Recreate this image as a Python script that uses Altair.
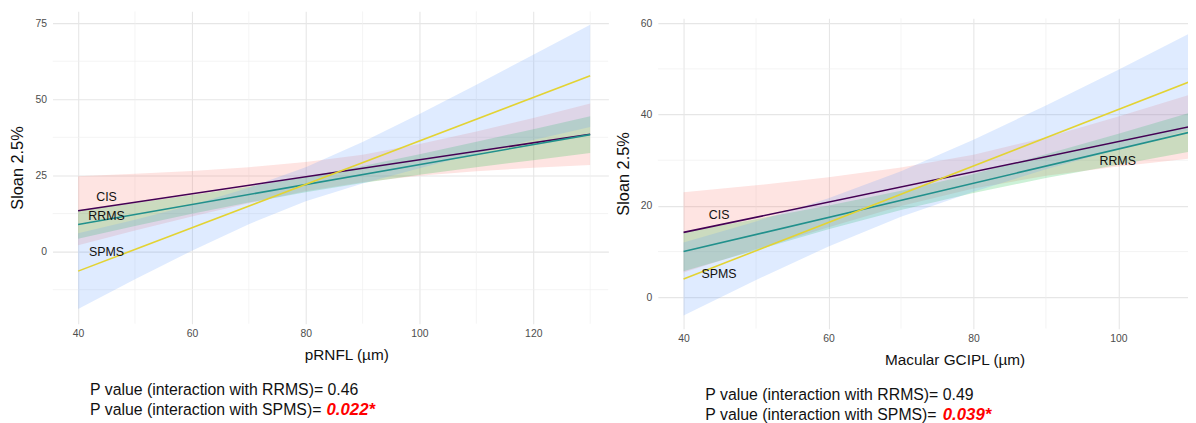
import altair as alt
import pandas as pd

groups = ["CIS", "RRMS", "SPMS"]
line_colors = {"CIS": "#440154", "RRMS": "#21908C", "SPMS": "#E3D332"}
fill_colors = {"CIS": "#F8766D", "RRMS": "#00BA38", "SPMS": "#619CFF"}

# ---------------- Left panel: pRNFL ----------------
rnfl_x = [40, 50, 60, 70, 80, 90, 100, 110, 120, 130]
rnfl_cis_lo = [2.1, 6.9, 11.5, 15.9, 19.8, 22.8, 24.9, 26.4, 27.5, 28.4]
rnfl_cis_hi = [24.7, 25.6, 26.5, 27.7, 29.4, 31.8, 35.3, 39.4, 43.9, 48.6]
rnfl_rrms_lo = [4.2, 8.4, 12.4, 16.1, 19.5, 22.5, 25.2, 27.7, 30.0, 32.4]
rnfl_rrms_hi = [13.6, 16.0, 18.6, 21.3, 24.5, 28.1, 32.0, 36.1, 40.2, 44.4]
rnfl_spms_lo = [-18.8, -9.1, 0.3, 9.0, 16.5, 22.4, 27.4, 32.2, 36.6, 40.9]
rnfl_spms_hi = [6.0, 10.5, 15.3, 21.0, 27.7, 36.0, 45.2, 54.8, 64.6, 74.5]
rnfl_fit_x = [40, 130]
rnfl_cis_fit = [13.4, 38.5]
rnfl_rrms_fit = [8.9, 38.4]
rnfl_spms_fit = [-6.4, 57.7]
rnfl_label_x = [45.0, 45.0, 45.0]
rnfl_label_y = [17.8, 11.8, -0.2]
rnfl_x_ticks = [40, 60, 80, 100, 120]
rnfl_x_minor = [50, 70, 90, 110, 130]
rnfl_y_ticks = [0, 25, 50, 75]
rnfl_y_minor = [-12.5, 12.5, 37.5, 62.5]
rnfl_p_lines = ["P value (interaction with RRMS)= 0.46", "P value (interaction with SPMS)= "]
rnfl_p_sig = "0.022*"

# ---------------- Right panel: Macular GCIPL ----------------
gcipl_x = [40, 50, 60, 70, 80, 90, 100, 110]
gcipl_cis_lo = [5.4, 10.5, 15.3, 20.0, 23.8, 26.6, 28.6, 30.4]
gcipl_cis_hi = [23.0, 24.5, 26.3, 28.4, 31.2, 35.0, 39.6, 44.4]
gcipl_rrms_lo = [5.7, 10.3, 14.9, 19.1, 22.8, 26.1, 29.0, 31.9]
gcipl_rrms_hi = [14.3, 17.1, 20.1, 23.3, 27.0, 31.3, 35.8, 40.5]
gcipl_spms_lo = [-4.0, 3.8, 11.1, 17.6, 23.1, 28.0, 32.4, 36.7]
gcipl_spms_hi = [12.0, 16.6, 21.7, 27.6, 34.5, 42.0, 49.8, 57.9]
gcipl_fit_x = [40, 110]
gcipl_cis_fit = [14.2, 37.4]
gcipl_rrms_fit = [10.0, 36.2]
gcipl_spms_fit = [4.0, 47.3]
gcipl_label_x = [44.9, 99.9, 44.9]
gcipl_label_y = [18.0, 29.9, 5.1]
gcipl_x_ticks = [40, 60, 80, 100]
gcipl_x_minor = [50, 70, 90]
gcipl_y_ticks = [0, 20, 40, 60]
gcipl_y_minor = [10, 30, 50]
gcipl_p_lines = ["P value (interaction with RRMS)= 0.49", "P value (interaction with SPMS)= "]
gcipl_p_sig = "0.039*"

FONT = "Liberation Sans"
MAJOR = "#E6E6E6"
MINOR = "#EFEFEF"


def make_panel(xs, bands, fit_x, fits, lab_x, lab_y, xt, xm, yt, ym,
               xdom, ydom, w, h, xtitle, title_x, p_lines, p_sig,
               p_x, p_sig_x, p_y):
    brows = []
    for g in groups:
        lo, hi = bands[g]
        for x, a, b in zip(xs, lo, hi):
            brows.append({"group": g, "x": x, "lo": a, "hi": b, "fill": fill_colors[g]})
    band_df = pd.DataFrame(brows)
    lrows = []
    for g in groups:
        for x, y in zip(fit_x, fits[g]):
            lrows.append({"group": g, "x": x, "y": y, "stroke": line_colors[g]})
    line_df = pd.DataFrame(lrows)
    lab_df = pd.DataFrame({"label": groups, "x": lab_x, "y": lab_y})

    xaxis = alt.Axis(values=xt, grid=True, gridColor=MAJOR, gridWidth=1.1,
                     domain=False, ticks=False, tickSize=0, labelPadding=5,
                     labelFontSize=10.5, labelColor="#4D4D4D", labelFont=FONT,
                     titleFontSize=15.5, titleFontWeight="normal", titleColor="#111111",
                     titleFont=FONT, titlePadding=8, minExtent=16, maxExtent=16,
                     titleX=title_x, format="d")
    yaxis = alt.Axis(values=yt, grid=True, gridColor=MAJOR, gridWidth=1.1,
                     domain=False, ticks=False, tickSize=0, labelPadding=6,
                     labelFontSize=10.5, labelColor="#4D4D4D", labelFont=FONT,
                     titleFontSize=16.5, titleFontWeight="normal", titleColor="#111111",
                     titleFont=FONT, titlePadding=7, minExtent=20, maxExtent=20,
                     format="d")
    xs_ = alt.Scale(domain=xdom, nice=False, zero=False)
    ys_ = alt.Scale(domain=ydom, nice=False, zero=False)

    def X(f):
        return alt.X(f, type="quantitative", scale=xs_, axis=xaxis, title=xtitle)

    def Y(f):
        return alt.Y(f, type="quantitative", scale=ys_, axis=yaxis, title="Sloan 2.5%")

    minor_x = alt.Chart(pd.DataFrame({"x": xm})).mark_rule(
        color=MINOR, strokeWidth=0.7, clip=True).encode(x=X("x"))
    minor_y = alt.Chart(pd.DataFrame({"y": ym})).mark_rule(
        color=MINOR, strokeWidth=0.7, clip=True).encode(y=Y("y"))
    area = alt.Chart(band_df).mark_area(opacity=0.2, clip=True).encode(
        x=X("x"), y=Y("lo"), y2="hi", color=alt.Color("fill:N", scale=None),
        detail="group:N")
    lines = alt.Chart(line_df).mark_line(strokeWidth=1.6, clip=True).encode(
        x=X("x"), y=Y("y"), color=alt.Color("stroke:N", scale=None),
        detail="group:N")
    labels = alt.Chart(lab_df).mark_text(
        font=FONT, fontSize=12.5, color="#111111", align="center", baseline="middle"
    ).encode(x=X("x"), y=Y("y"), text="label:N")
    p1 = alt.Chart(pd.DataFrame({"t": [p_lines[0]]})).mark_text(
        font=FONT, fontSize=16, color="#111111", align="left", baseline="middle"
    ).encode(x=alt.value(p_x), y=alt.value(p_y[0]), text="t:N")
    p2 = alt.Chart(pd.DataFrame({"t": [p_lines[1]]})).mark_text(
        font=FONT, fontSize=16, color="#111111", align="left", baseline="middle"
    ).encode(x=alt.value(p_x), y=alt.value(p_y[1]), text="t:N")
    p3 = alt.Chart(pd.DataFrame({"t": [p_sig]})).mark_text(
        font=FONT, fontSize=17, color="#FF0000", fontWeight="bold", fontStyle="italic",
        align="left", baseline="middle"
    ).encode(x=alt.value(p_sig_x), y=alt.value(p_y[1]), text="t:N")
    return alt.layer(minor_x, minor_y, area, lines, labels, p1, p2, p3).properties(
        width=w, height=h)


left = make_panel(
    rnfl_x,
    {"CIS": (rnfl_cis_lo, rnfl_cis_hi), "RRMS": (rnfl_rrms_lo, rnfl_rrms_hi),
     "SPMS": (rnfl_spms_lo, rnfl_spms_hi)},
    rnfl_fit_x, {"CIS": rnfl_cis_fit, "RRMS": rnfl_rrms_fit, "SPMS": rnfl_spms_fit},
    rnfl_label_x, rnfl_label_y, rnfl_x_ticks, rnfl_x_minor, rnfl_y_ticks, rnfl_y_minor,
    [35.5, 133.2], [-23.7, 78.9], 562, 316, "pRNFL (µm)", 297,
    rnfl_p_lines, rnfl_p_sig, 38, 277, [383, 403])

right = make_panel(
    gcipl_x,
    {"CIS": (gcipl_cis_lo, gcipl_cis_hi), "RRMS": (gcipl_rrms_lo, gcipl_rrms_hi),
     "SPMS": (gcipl_spms_lo, gcipl_spms_hi)},
    gcipl_fit_x, {"CIS": gcipl_cis_fit, "RRMS": gcipl_rrms_fit, "SPMS": gcipl_spms_fit},
    gcipl_label_x, gcipl_label_y, gcipl_x_ticks, gcipl_x_minor, gcipl_y_ticks, gcipl_y_minor,
    [36.45, 109.6], [-6.9, 61.1], 536, 314, "Macular GCIPL (µm)", 300,
    gcipl_p_lines, gcipl_p_sig, 48, 288, [381, 401])

spacer = alt.Chart(pd.DataFrame({"v": [0]})).mark_point(opacity=0, size=0).encode(
    x=alt.X("v:Q", axis=None), y=alt.Y("v:Q", axis=None)).properties(width=536, height=1)

right_col = alt.vconcat(spacer, right, spacing=6, bounds="flush")

chart = alt.hconcat(left, right_col, spacing=50, bounds="flush").properties(
    padding={"left": 2, "top": 1, "right": 0, "bottom": 0},
    background="white",
).configure(font=FONT).configure_view(stroke="transparent", strokeWidth=0)

chart.save("out.html", embed_options={"renderer": "svg", "actions": False})
